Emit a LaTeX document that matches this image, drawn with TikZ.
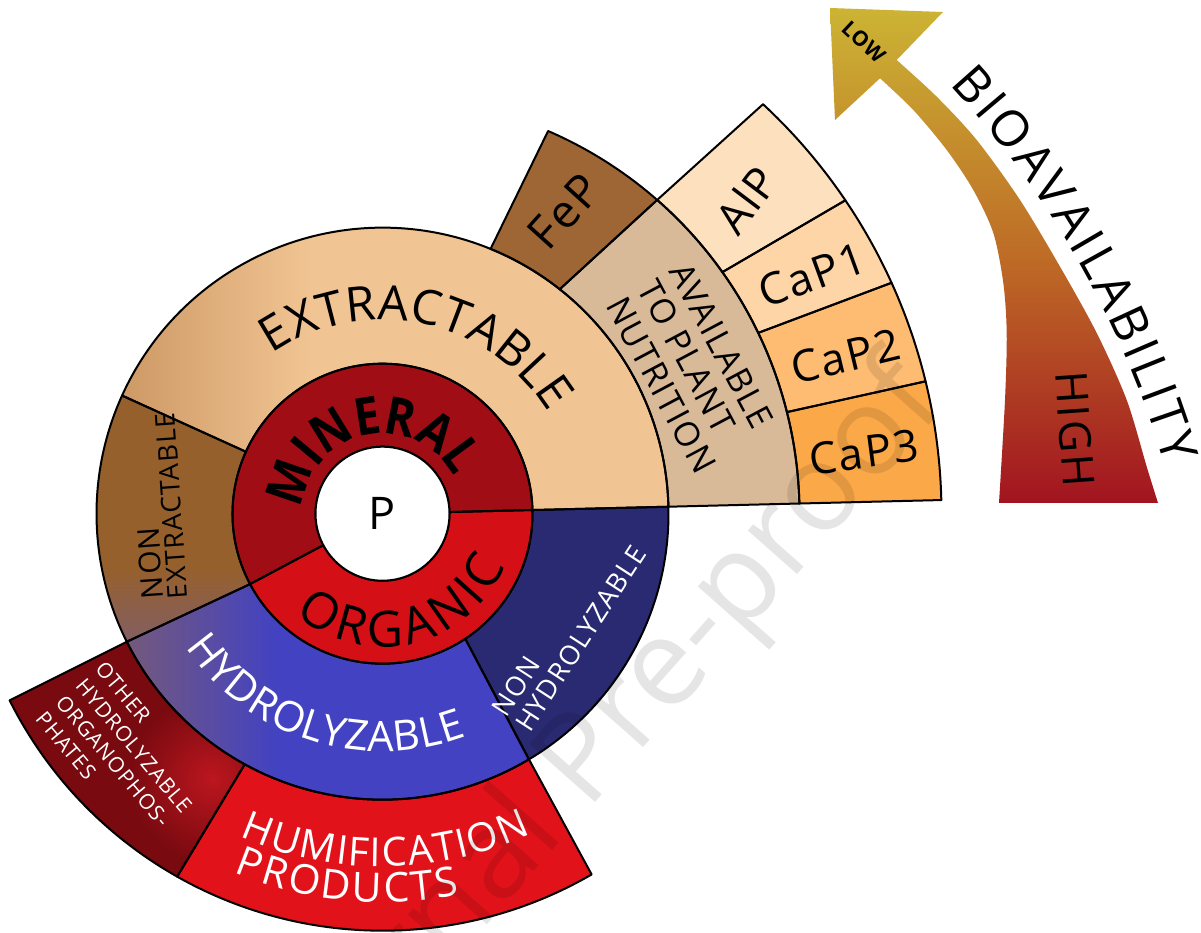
\documentclass[tikz,border=0pt]{standalone}
\usepackage{fontspec}
\setmainfont{Open Sans}
\newfontfamily\spacedfont{Open Sans}[LetterSpace=5]
\usetikzlibrary{fadings}

% fonts for the words set letter by letter along the rings
\font\arcMineral="Open Sans/B" at 52pt
\font\arcOrganic="Open Sans" at 50pt
\font\arcExtract="Open Sans" at 48pt
\font\arcHydro="Open Sans" at 42pt
\font\arcHumif="Open Sans" at 40pt
\font\arcProd="Open Sans" at 41pt
\font\arcBio="Open Sans" at 50pt

\definecolor{mineralred}{RGB}{160,13,20}
\definecolor{organicred}{RGB}{212,16,22}
\definecolor{extpeach}{RGB}{241,197,147}
\definecolor{extshade}{RGB}{200,146,94}
\definecolor{nonextbrown}{RGB}{150,96,45}
\definecolor{mauve}{RGB}{128,94,108}
\definecolor{hydroblue}{RGB}{66,66,194}
\definecolor{nonhydronavy}{RGB}{42,42,115}
\definecolor{availtan}{RGB}{216,185,152}
\definecolor{fepbrown}{RGB}{157,102,52}
\definecolor{alpcream}{RGB}{253,224,190}
\definecolor{caponecol}{RGB}{253,213,167}
\definecolor{captwocol}{RGB}{253,188,113}
\definecolor{capthreecol}{RGB}{251,168,72}
\definecolor{otherred}{RGB}{120,10,16}
\definecolor{otherglow}{RGB}{188,22,30}
\definecolor{humifred}{RGB}{226,18,26}
\definecolor{arrowtop}{RGB}{204,180,52}
\definecolor{arrowmid}{RGB}{190,108,38}
\definecolor{arrowbot}{RGB}{162,20,32}

\newcommand\fsize[1]{\fontsize{#1}{#1}\selectfont}
% annular piece: inner radius, outer radius, inner arc from/to, outer arc from/to
\newcommand\band[6]{(#3:#1) arc[start angle=#3,end angle=#4,radius=#1] -- (#6:#2) arc[start angle=#6,end angle=#5,radius=#2] -- cycle}

\newsavebox\glyphbox
\newdimen\wordwidth
\newdimen\wordsofar
\newdimen\glyphwd
% letters set one by one round the current origin
% #1 baseline radius, #2 angle of the word's middle, #3 font, #4 extra gap,
% #5 1 = letters stand outward, -1 = letters stand inward, #6 colour, #7 letters,
% #8 horizontal scale of each letter
\newcommand\arcword[8]{%
  \global\wordwidth=0pt
  \foreach \g in {#7}{%
    \sbox\glyphbox{#3\g}%
    \global\advance\wordwidth by #8\wd\glyphbox
    \global\advance\wordwidth by #4pt\relax}%
  \global\advance\wordwidth by -#4pt\relax
  \global\wordsofar=0pt
  \foreach \g in {#7}{%
    \sbox\glyphbox{#3\g}%
    \global\glyphwd=#8\wd\glyphbox
    \pgfmathsetmacro\glyphang{#2+(#5)*deg((0.5*\wordwidth-\wordsofar-0.5*\glyphwd)/#1)}%
    \node[anchor=base, inner sep=0pt, text=#6, font=#3, rotate={\glyphang-(#5)*90}, xscale=#8] at (\glyphang:#1) {\g};
    \global\advance\wordsofar by \glyphwd
    \global\advance\wordsofar by #4pt\relax}%
}

\begin{document}
\begin{tikzpicture}[x=1pt,y=1pt,line join=round,
  bandline/.style={draw=black,line width=2pt},
  lbl/.style={inner sep=1pt}]
\useasboundingbox (0,0) rectangle (1201,932);
\fill[white] (0,0) rectangle (1201,932);

% ---- bioavailability arrow
\shade[top color=arrowtop, bottom color=arrowbot, middle color=arrowmid]
  plot[smooth] coordinates {(999,429) (1005,532) (1006.7,599) (1003.3,649) (993.3,699) (973.3,742) (946.7,782) (913.3,822) (880,853.7)}
  -- (835,812) -- (830,924) -- (943,920) -- (896.7,872)
  -- plot[smooth] coordinates {(896.7,872) (936.7,835.3) (976.7,792) (1020,732) (1060,665.3) (1096.7,599) (1126.7,532) (1146.7,465.3) (1158,429)}
  -- cycle;

\begin{scope}[shift={(382.5,418.3)}]
  % fills, outer ring
  \fill[capthreecol] \band{417}{559}{1.4}{14.1}{1.4}{13.7};
  \fill[captwocol] \band{417}{559}{14.1}{25.7}{13.7}{24.4};
  \fill[caponecol] \band{417}{559}{25.7}{35.4}{24.4}{34.1};
  \fill[alpcream] \band{417}{559}{35.4}{48.8}{34.1}{47.1};
  % fills, third ring
  \fill[availtan] \band{286}{417}{1.4}{51.7}{1.4}{48.8};
  \fill[fepbrown] \band{286}{417}{51.7}{67.8}{48.8}{66.6};
  \fill[otherred] \band{286}{417}{206.6}{241.2}{206.6}{240.5};
  \begin{scope}
    \clip \band{286}{417}{206.6}{241.2}{206.6}{240.5};
    \shade[inner color=otherglow, outer color=otherred] (-170,-265) circle (85);
  \end{scope}
  \fill[humifred] \band{286}{417}{241.2}{300.8}{240.5}{300.1};
  % fills, second ring
  \fill[extpeach] \band{150}{286}{1.4}{155.6}{1.4}{155.6};
  \begin{scope}
    \clip \band{150}{286}{1.4}{155.6}{1.4}{155.6};
    \shade[left color=extshade, right color=extpeach] (-290,-10) rectangle (-70,300);
  \end{scope}
  \fill[nonextbrown] \band{150}{286}{155.6}{208}{155.6}{206.6};
  \begin{scope}
    \clip \band{150}{286}{155.6}{208}{155.6}{206.6};
    \shade[top color=nonextbrown, bottom color=mauve] (-300,-140) rectangle (-120,-55);
  \end{scope}
  \fill[hydroblue] \band{150}{286}{208}{303.5}{206.6}{300.8};
  \begin{scope}
    \clip \band{150}{286}{208}{303.5}{206.6}{300.8};
    \shade[left color=mauve, right color=hydroblue] (-290,-300) rectangle (-105,-40);
  \end{scope}
  \fill[nonhydronavy] \band{150}{286}{303.5}{361.4}{300.8}{361.4};
  % fills, inner ring
  \fill[mineralred] \band{67}{150}{1.4}{208}{1.4}{208};
  \fill[organicred] \band{67}{150}{208}{361.4}{208}{361.4};

  % outlines
  \path[bandline] \band{417}{559}{1.4}{14.1}{1.4}{13.7};
  \path[bandline] \band{417}{559}{14.1}{25.7}{13.7}{24.4};
  \path[bandline] \band{417}{559}{25.7}{35.4}{24.4}{34.1};
  \path[bandline] \band{417}{559}{35.4}{48.8}{34.1}{47.1};
  \path[bandline] \band{286}{417}{1.4}{51.7}{1.4}{48.8};
  \path[bandline] \band{286}{417}{51.7}{67.8}{48.8}{66.6};
  \path[bandline] \band{286}{417}{206.6}{241.2}{206.6}{240.5};
  \path[bandline] \band{286}{417}{241.2}{300.8}{240.5}{300.1};
  \path[bandline] \band{150}{286}{1.4}{155.6}{1.4}{155.6};
  \path[bandline] \band{150}{286}{155.6}{208}{155.6}{206.6};
  \path[bandline] \band{150}{286}{208}{303.5}{206.6}{300.8};
  \path[bandline] \band{150}{286}{303.5}{361.4}{300.8}{361.4};
  \path[bandline] \band{67}{150}{1.4}{208}{1.4}{208};
  \path[bandline] \band{67}{150}{208}{361.4}{208}{361.4};
  \path[bandline, fill=white] (0,0) circle (67);

  % words set along the rings
  \arcword{80}{101.8}{\arcMineral}{0}{1}{black}{M,I,N,E,R,A,L}{0.88}
  \arcword{133}{283}{\arcOrganic}{5}{-1}{black}{O,R,G,A,N,I,C}{1}
  \arcword{194}{78}{\arcExtract}{0.5}{1}{black}{E,X,T,R,A,C,T,A,B,L,E}{1}
  \arcword{238}{252.4}{\arcHydro}{0.5}{-1}{white}{H,Y,D,R,O,L,Y,Z,A,B,L,E}{1}
  \arcword{353}{270.5}{\arcHumif}{1.6}{-1}{white}{H,U,M,I,F,I,C,A,T,I,O,N}{1}
  \arcword{388.6}{264.5}{\arcProd}{2.5}{-1}{white}{P,R,O,D,U,C,T,S}{1}
\end{scope}

% ---- straight labels
\node[lbl, font=\fsize{45}] (pcore) at (382.5,418.3) {P};
\node[lbl, font=\spacedfont\fsize{46}, rotate=48] (fep) at (564.3,720.3) {FeP};
\node[lbl, font=\spacedfont\fsize{44}, rotate=53] (alp) at (745.7,732) {AlP};
\node[lbl, font=\spacedfont\fsize{44}, rotate=20] (capone) at (811.7,657) {CaP1};
\node[lbl, font=\spacedfont\fsize{44}, rotate=13.5] (captwo) at (845.7,575.3) {CaP2};
\node[lbl, font=\spacedfont\fsize{44}, rotate=7.5] (capthree) at (864,479.7) {CaP3};
\node[lbl, font=\spacedfont\fsize{30}, rotate=94, anchor=west] (nonword) at (153,332) {NON};
\node[lbl, font=\spacedfont\fsize{27}, rotate=94, anchor=west] (extrword) at (178,332) {EXTRACTABLE};
\node[lbl, font=\spacedfont\fontsize{34}{36}\selectfont, rotate=-62, align=left] (avail) at (693,564) {AVAILABLE\\TO PLANT\\NUTRITION};
\node[lbl, font=\spacedfont\fontsize{27}{28}\selectfont, rotate=57, align=left, text=white] (nonhydro) at (569,301) {NON\\HYDROLYZABLE};
\node[lbl, font=\spacedfont\fontsize{21}{26}\selectfont, rotate=-50, align=left, text=white] (other) at (124,178) {OTHER\\HYDROLYZABLE\\ORGANOPHOS-\\PHATES};
\node[lbl, font=\spacedfont\fsize{44}, rotate=-86] (high) at (1075,503) {HIGH};
\node[lbl, font=\spacedfont\fsize{21}\bfseries, rotate=-43] (low) at (864,890) {LOW};

\begin{scope}[shift={(238.4,193.7)}]
  \arcword{966}{29.5}{\arcBio}{3.5}{1}{black}{B,I,O,A,V,A,I,L,A,B,I,L,I,T,Y}{1}
\end{scope}

% ---- watermark
\node[font=\fsize{123}, rotate=48.5, text=black, opacity=0.1] (mark) at (598,181) {Journal Pre-proof};
\end{tikzpicture}
\end{document}
